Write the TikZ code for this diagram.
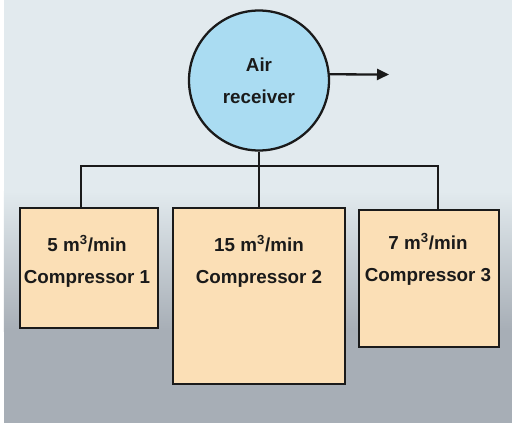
\documentclass[tikz,border=0pt]{standalone}
\usepackage{fontspec}
\setmainfont{Liberation Sans}
\usetikzlibrary{arrows.meta}

\definecolor{skytop}{HTML}{E2EAEE}
\definecolor{skybot}{HTML}{A7AEB6}
\definecolor{tankblue}{HTML}{AADCF2}
\definecolor{unitfill}{HTML}{FBDFB6}
\definecolor{ink}{HTML}{1A1A1A}

\begin{document}
\begin{tikzpicture}[
    x=0.02cm,
    y=-0.02cm,
    every node/.style={font=\fontsize{10.7}{18.1}\selectfont\bfseries, text=ink},
    tank/.style={circle, draw=ink, fill=tankblue, line width=1.3pt, minimum size=2.8cm, inner sep=0pt, align=center},
    unit/.style={draw=ink, fill=unitfill, line width=1.3pt, inner sep=0pt},
    rate/.style={align=center, inner sep=0pt},
    pipe/.style={draw=ink, line width=1.3pt},
    flow/.style={-{Triangle[length=0.24cm, width=0.22cm]}, draw=ink, line width=1.3pt}
  ]
    % backdrop
    \fill[white] (0,0) rectangle (512,423);
    \fill[skytop] (4,0) rectangle (512,192);
    \shade[top color=skytop, bottom color=skybot] (4,191) rectangle (512,331);
    \fill[skybot] (4,330) rectangle (512,423);
    \useasboundingbox (0,0) rectangle (512,423);

    \node[tank] (rec) at (259,80.5) {Air\\receiver};

    \node[unit, minimum width=2.76cm, minimum height=2.4cm] (c1) at (89,268) {};
    \node[unit, minimum width=3.44cm, minimum height=3.52cm] (c2) at (259,296) {};
    \node[unit, minimum width=2.8cm, minimum height=2.74cm] (c3) at (429,278.5) {};

    \node[rate] (r1) at (87,261) {5 m\textsuperscript{3}/min\\Compressor 1};
    \node[rate] (r2) at (259,261) {15 m\textsuperscript{3}/min\\Compressor 2};
    \node[rate] (r3) at (428,259) {7 m\textsuperscript{3}/min\\Compressor 3};

    % manifold
    \coordinate (busL) at (81,166);
    \coordinate (busR) at (438,166);
    \coordinate (out) at (389,74.5);
    \draw[pipe] (rec.south) -- (c2.north);
    \draw[pipe] (c1.north -| busL) -- (busL) -- (busR) -- (c3.north -| busR);
    \draw[flow] (rec.5) -- (out);
  \end{tikzpicture}
\end{document}
